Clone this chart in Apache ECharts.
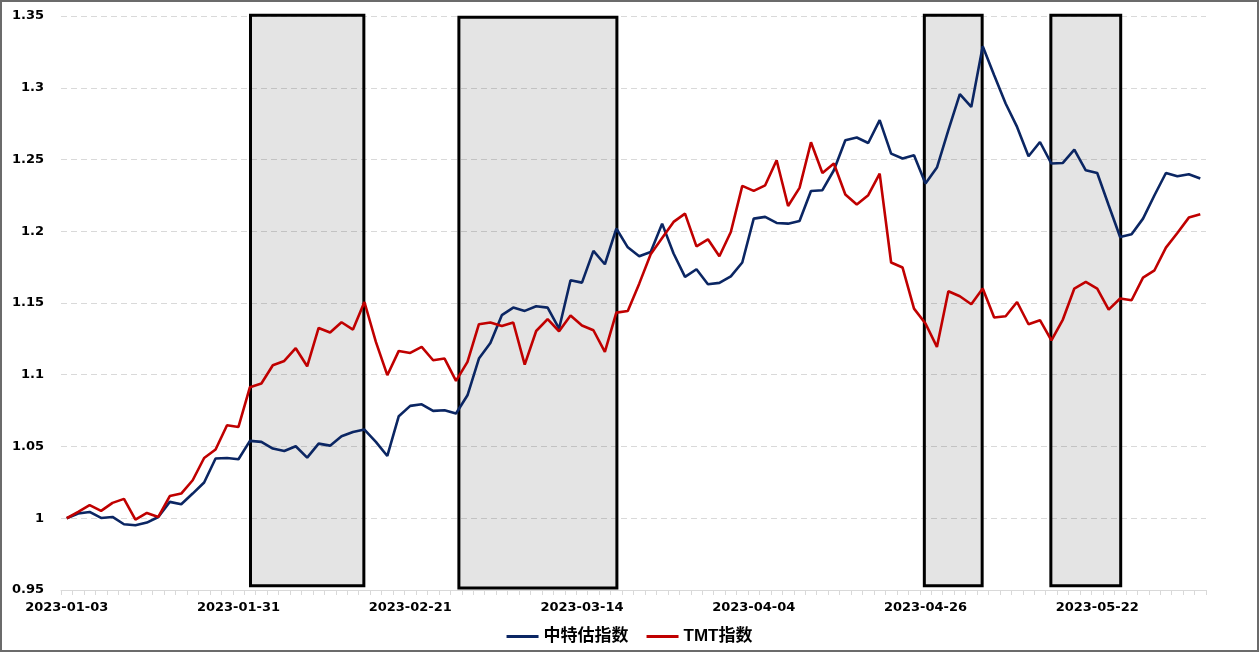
<!DOCTYPE html>
<html>
<head>
<meta charset="utf-8">
<script src="https://cdn.jsdelivr.net/npm/echarts@6.0.0/dist/echarts.min.js"></script>
<style>
html,body{margin:0;padding:0;background:#fff;}
#frame{width:1259px;height:652px;box-sizing:border-box;border:2px solid #6b6b6b;position:relative;overflow:hidden;}
#chart{position:absolute;left:-2px;top:-2px;width:1259px;height:652px;}
</style>
</head>
<body>
<div id="frame"><div id="chart"></div></div>
<script>
const categories = [
 '2023-01-03','2023-01-04','2023-01-05','2023-01-06','2023-01-09','2023-01-10','2023-01-11','2023-01-12','2023-01-13','2023-01-16',
 '2023-01-17','2023-01-18','2023-01-19','2023-01-20','2023-01-30','2023-01-31','2023-02-01','2023-02-02','2023-02-03','2023-02-06',
 '2023-02-07','2023-02-08','2023-02-09','2023-02-10','2023-02-13','2023-02-14','2023-02-15','2023-02-16','2023-02-17','2023-02-20',
 '2023-02-21','2023-02-22','2023-02-23','2023-02-24','2023-02-27','2023-02-28','2023-03-01','2023-03-02','2023-03-03','2023-03-06',
 '2023-03-07','2023-03-08','2023-03-09','2023-03-10','2023-03-13','2023-03-14','2023-03-15','2023-03-16','2023-03-17','2023-03-20',
 '2023-03-21','2023-03-22','2023-03-23','2023-03-24','2023-03-27','2023-03-28','2023-03-29','2023-03-30','2023-03-31','2023-04-03',
 '2023-04-04','2023-04-06','2023-04-07','2023-04-10','2023-04-11','2023-04-12','2023-04-13','2023-04-14','2023-04-17','2023-04-18',
 '2023-04-19','2023-04-20','2023-04-21','2023-04-24','2023-04-25','2023-04-26','2023-04-27','2023-04-28','2023-05-04','2023-05-05',
 '2023-05-08','2023-05-09','2023-05-10','2023-05-11','2023-05-12','2023-05-15','2023-05-16','2023-05-17','2023-05-18','2023-05-19',
 '2023-05-22','2023-05-23','2023-05-24','2023-05-25','2023-05-26','2023-05-29','2023-05-30','2023-05-31','2023-06-01','2023-06-02'
];

const zhongTeGu = [
 1.000,1.0033,1.0044,1.0002,1.0009,0.9958,0.9951,0.9970,1.0009,1.0114,
 1.0098,1.0172,1.0249,1.0416,1.0420,1.0411,1.0539,1.0532,1.0486,1.0469,
 1.0502,1.0423,1.0520,1.0506,1.0571,1.0601,1.0618,1.0532,1.0434,1.0711,
 1.0783,1.0794,1.0748,1.0753,1.0730,1.0857,1.1113,1.1222,1.1415,1.1468,
 1.1445,1.1477,1.1468,1.1322,1.1659,1.1642,1.1863,1.1770,1.2019,1.1888,
 1.1826,1.1856,1.2053,1.1845,1.1682,1.1735,1.1631,1.1640,1.1686,1.1782,
 1.2088,1.2100,1.2058,1.2053,1.2072,1.2280,1.2286,1.2425,1.2634,1.2653,
 1.2615,1.2774,1.2541,1.2507,1.2530,1.2332,1.2444,1.2704,1.2955,1.2866,
 1.3289,1.3087,1.2890,1.2727,1.2523,1.2622,1.2472,1.2476,1.2569,1.2425,
 1.2406,1.2181,1.1960,1.1979,1.2088,1.2251,1.2406,1.2383,1.2397,1.2367
];

const tmt = [
 1.000,1.0045,1.0091,1.0051,1.0107,1.0135,0.9991,1.0037,1.0009,1.0155,
 1.0172,1.0265,1.0420,1.0479,1.0648,1.0636,1.0913,1.0939,1.1066,1.1096,
 1.1185,1.1059,1.1326,1.1294,1.1366,1.1315,1.1507,1.1229,1.0997,1.1166,
 1.1152,1.1194,1.1101,1.1113,1.0957,1.1090,1.1352,1.1364,1.1340,1.1364,
 1.1071,1.1305,1.1387,1.1303,1.1413,1.1343,1.1310,1.1159,1.1433,1.1444,
 1.1635,1.1840,1.1953,1.2065,1.2123,1.1895,1.1944,1.1826,1.1995,1.2316,
 1.2281,1.2320,1.2495,1.2176,1.2302,1.2620,1.2406,1.2472,1.2256,1.2186,
 1.2251,1.2402,1.1782,1.1747,1.1461,1.1357,1.1194,1.1582,1.1547,1.1491,
 1.1601,1.1399,1.1408,1.1507,1.1352,1.1380,1.1240,1.1385,1.1601,1.1647,
 1.1601,1.1454,1.1531,1.1519,1.1677,1.1728,1.1886,1.1988,1.2095,1.2118
];

const seriesNames = ['中特估指数', 'TMT指数'];

// shaded periods, in category-index units
const boxStart  = [16.05, 34.25, 74.9, 85.95];
const boxEnd    = [25.95, 48.05, 79.95, 92.05];
const boxBottom = [0.953, 0.9514, 0.953, 0.953];
const boxTop    = [1.3505, 1.3491, 1.3505, 1.3505];

const yTicks = { min: 0.95, max: 1.35, interval: 0.05 };

const boxData = boxStart.map((s, i) => [s, boxEnd[i], boxBottom[i], boxTop[i]]);

const chart = echarts.init(document.getElementById('chart'), null, {renderer: 'canvas'});
const fontFam = 'DejaVu Sans, "Noto Sans CJK SC", sans-serif';
const legendFont = '"Liberation Sans", "Noto Sans CJK SC", sans-serif';
const grid = {left: 61, right: 53, top: 16, bottom: 62, containLabel: false};

chart.setOption({
  animation: false,
  backgroundColor: '#ffffff',
  grid: grid,
  legend: {
    data: seriesNames,
    left: 'center',
    top: 623,
    itemWidth: 32,
    itemHeight: 3,
    itemGap: 18,
    icon: 'rect',
    textStyle: {fontFamily: legendFont, fontSize: 17, fontWeight: 'bold', color: '#000'}
  },
  xAxis: [{
    type: 'category',
    data: categories,
    boundaryGap: true,
    axisLine: {show: true, lineStyle: {color: '#d9d9d9', width: 1}},
    axisTick: {show: true, interval: 0, length: 5, lineStyle: {color: '#d9d9d9'}},
    axisLabel: {interval: 14, margin: 11, color: '#000', fontFamily: fontFam, fontSize: 13, fontWeight: 'bold'},
    splitLine: {show: false}
  }, {
    type: 'value',
    min: -0.5,
    max: categories.length - 0.5,
    show: false
  }],
  yAxis: {
    type: 'value',
    min: yTicks.min,
    max: yTicks.max,
    interval: yTicks.interval,
    axisLine: {show: false},
    axisTick: {show: false},
    axisLabel: {
      margin: 17, color: '#000', fontFamily: fontFam, fontSize: 13, fontWeight: 'bold',
      formatter: v => String(+v.toFixed(2))
    },
    splitLine: {show: true, lineStyle: {color: '#d9d9d9', type: [6, 4], width: 1}}
  },
  series: [{
    type: 'custom',
    name: 'boxes',
    xAxisIndex: 1,
    yAxisIndex: 0,
    clip: false,
    silent: true,
    z: 1,
    encode: {x: [0, 1], y: [2, 3]},
    data: boxData,
    renderItem: function (params, api) {
      const p0 = api.coord([api.value(0), api.value(3)]);
      const p1 = api.coord([api.value(1), api.value(2)]);
      return {
        type: 'rect',
        shape: {x: p0[0], y: p0[1], width: p1[0] - p0[0], height: p1[1] - p0[1]},
        style: {fill: 'rgba(0,0,0,0.105)', stroke: '#000', lineWidth: 3}
      };
    }
  }, {
    type: 'line',
    name: seriesNames[0],
    data: zhongTeGu,
    symbol: 'none',
    z: 3,
    lineStyle: {color: '#0b2663', width: 2.6},
    itemStyle: {color: '#0b2663'}
  }, {
    type: 'line',
    name: seriesNames[1],
    data: tmt,
    symbol: 'none',
    z: 3,
    lineStyle: {color: '#c00000', width: 2.6},
    itemStyle: {color: '#c00000'}
  }]
});
</script>
</body>
</html>
